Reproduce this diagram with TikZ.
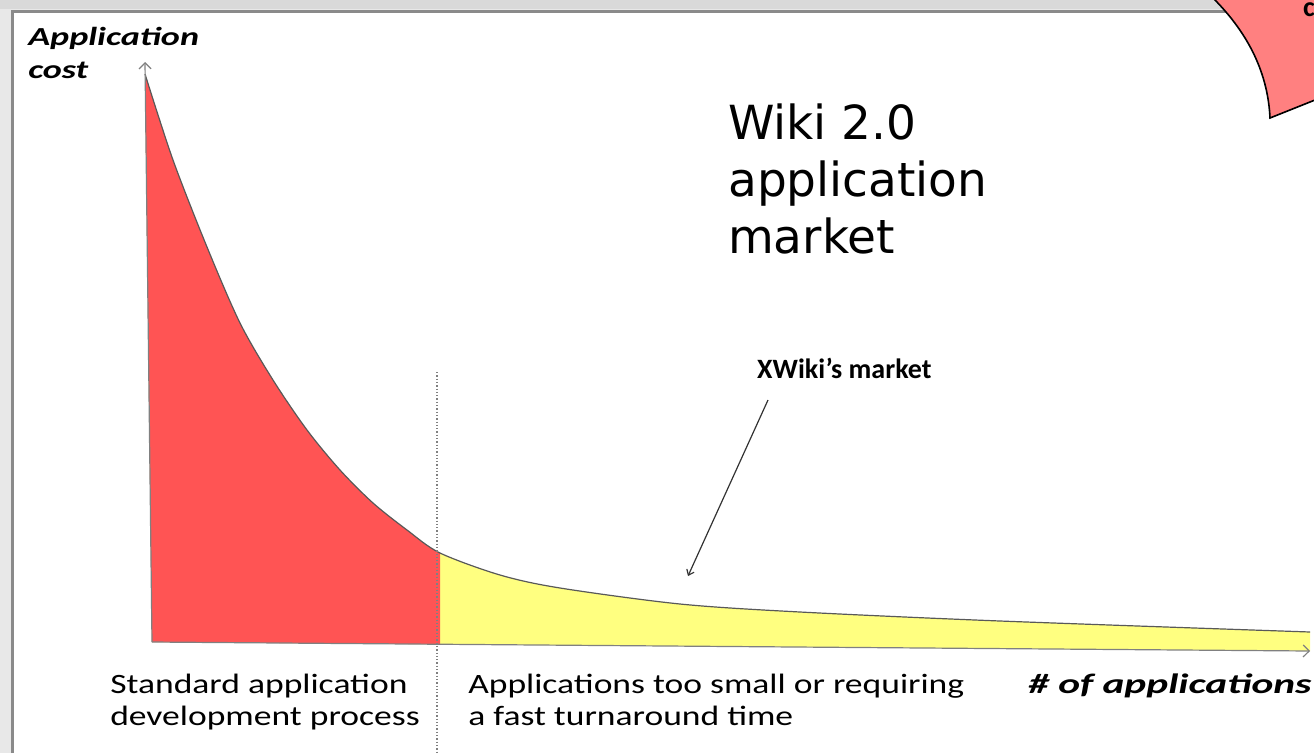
\documentclass[tikz,border=0pt]{standalone}
\usepackage{fontspec}
\setmainfont{Carlito}
\newfontfamily\wikifont{DejaVu Sans}
\usetikzlibrary{arrows.meta}
\usetikzlibrary{positioning}
\definecolor{redarea}{HTML}{FF5454}
\definecolor{yellowarea}{HTML}{FFFF80}
\definecolor{calloutpink}{HTML}{FF8080}
\definecolor{framegray}{HTML}{8A8A8A}
\tikzset{axis/.style = {draw=gray, line width=1.2, -{Straight Barb[length=6pt, width=12pt]}},
  curve/.style = {draw=gray!70!black, line width=1.2},
  lbl/.style = {inner sep=0, anchor=base west, align=left},
  bolditalic/.style = {font=\bfseries\itshape\fontsize{26}{33}\selectfont}}

\begin{document}
\begin{tikzpicture}[x=1pt, y=-1pt]
\useasboundingbox (0,0) rectangle (1314,753);
\clip (0,0) rectangle (1314,753);
% frame of the screenshot
\fill [black!9] (0,0) rectangle (1314,753);
\fill [black!15] (0,0) rectangle (1314,9);
\fill [white] (14,13) rectangle (1314,753);
\draw [framegray, line width=3] (12,753) -- (12,11) -- (1314,11);

% cost curve
\def\costcurve{(145,74) (173,160) (207,247) (240,323) (273,380) (307,430) (340,470) (373,503) (407,530) (440,553) (500,575) (560,588) (680,604) (800,612) (1000,621) (1310,632)}
\fill [yellowarea] (152,642) -- plot [smooth] coordinates {\costcurve} -- (1310,651) -- cycle;
\begin{scope}
  \clip (0,0) rectangle (440,753);
  \fill [redarea] (152,642) -- plot [smooth] coordinates {\costcurve} -- (1310,651) -- cycle;
\end{scope}
\draw [curve] plot [smooth] coordinates {\costcurve};
\draw [dotted, gray, line width=1.3] (437,372) -- (437,760);

% axes
\coordinate (origin) at (152,642);
\coordinate (ytop) at (145,62);
\coordinate (xend) at (1310,651);
\draw [axis] (origin) -- (ytop);
\draw [axis] (origin) -- (xend);

% labels
\node [lbl, bolditalic, xscale=1.39] (ycost) at (28,78) {Application\\cost};
\node [lbl, font=\bfseries\itshape\fontsize{28}{32}\selectfont, xscale=1.48] (xapps) at (1028,693) {\# of applications};
\node [lbl, font=\fontsize{28}{32}\selectfont, xscale=1.27] (standard) at (110,725) {Standard application\\development process};
\node [lbl, font=\fontsize{28}{32}\selectfont, xscale=1.27] (small) at (468,725) {Applications too small or requiring\\a fast turnaround time};
\node [lbl, font=\wikifont\fontsize{47}{57}\selectfont] (wiki) at (728,253) {Wiki 2.0\\application\\market};
\node [lbl, font=\bfseries\fontsize{28}{32}\selectfont] (xwiki) at (757,378) {XWiki’s market};
\coordinate (pointer) at (768,400);
\coordinate (tail) at (688,576);
\draw [-{Straight Barb[length=5pt, width=8pt]}, line width=1.2, black!80] (pointer) -- (tail);

% callout at the top right
\draw [fill=calloutpink, line width=1.6] (1213,-2) .. controls (1250,35) and (1268,75) .. (1270,118) -- (1320,98) -- (1320,-2);
\node [inner sep=0, anchor=base west, font=\bfseries\fontsize{28}{32}\selectfont] (callc) at (1303,16) {c};
\end{tikzpicture}
\end{document}
